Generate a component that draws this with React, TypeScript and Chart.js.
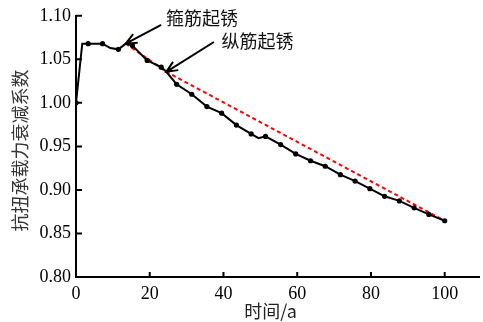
import React, { useEffect, useRef } from "react";
import { Chart, registerables } from "chart.js";

Chart.register(...registerables);

// Black series: time (years) and torsional capacity degradation coefficient
const timeYears = [0, 1.7, 3.3, 7.2, 9.3, 11.5, 13.5, 15.3, 19.3, 23.1, 24.5, 27.3, 31.4, 35.5, 39.5, 43.5, 47.5, 49.5, 51.4, 55.5, 59.6, 63.6, 67.6, 71.7, 75.7, 79.7, 83.7, 87.7, 91.7, 95.7, 100];
const coefValues = [1.0, 1.068, 1.068, 1.068, 1.063, 1.0615, 1.068, 1.0658, 1.0487, 1.041, 1.0357, 1.0213, 1.0099, 0.9957, 0.9882, 0.9745, 0.9643, 0.9595, 0.9615, 0.9521, 0.9414, 0.9335, 0.9272, 0.9175, 0.9102, 0.9015, 0.8927, 0.8874, 0.8794, 0.8719, 0.8646];
const markerShown = [1, 0, 1, 1, 0, 1, 0, 1, 1, 1, 0, 1, 1, 1, 1, 1, 1, 0, 1, 1, 1, 1, 1, 1, 1, 1, 1, 1, 1, 1, 1];

// Red dashed fit line
const fitYears = [13.5, 24.5, 100];
const fitValues = [1.068, 1.0357, 0.8646];

// Axis ticks
const xTickValues = [0, 20, 40, 60, 80, 100];
const yTickValues = [0.8, 0.85, 0.9, 0.95, 1.0, 1.05, 1.1];

// Annotations: label, text position, arrow tail, arrow tip (data coords)
const annLabels = ["箍筋起锈", "纵筋起锈"];
const annTextX = [34.2, 49.2];
const annTextY = [1.0975, 1.0707];
const annTailX = [23.1, 37.4];
const annTailY = [1.0897, 1.0699];
const annTipX = [13.5, 24.5];
const annTipY = [1.068, 1.0357];

const xTitle = "时间/a";
const yTitle = "抗扭承载力衰减系数";

const CJK = "'Noto Sans CJK SC', sans-serif";
const SERIF = "'Liberation Serif', 'Times New Roman', serif";

Chart.defaults.font.family = SERIF;

const decoPlugin = {
  id: "deco",
  afterDraw(chart: any) {
    const ctx = chart.ctx;
    const xs = chart.scales.x;
    const ys = chart.scales.y;
    const ca = chart.chartArea;
    ctx.save();
    // inward tick marks
    ctx.strokeStyle = "#000";
    ctx.lineWidth = 2;
    ctx.beginPath();
    xTickValues.forEach((v) => {
      const px = xs.getPixelForValue(v);
      ctx.moveTo(px, ca.bottom);
      ctx.lineTo(px, ca.bottom - 5);
    });
    yTickValues.forEach((v) => {
      const py = ys.getPixelForValue(v);
      ctx.moveTo(ca.left, py);
      ctx.lineTo(ca.left + 6, py);
    });
    ctx.stroke();

    // arrows + labels
    ctx.lineWidth = 2;
    ctx.strokeStyle = "#000";
    for (let i = 0; i < annLabels.length; i++) {
      const tx = xs.getPixelForValue(annTailX[i]);
      const ty = ys.getPixelForValue(annTailY[i]);
      const hx = xs.getPixelForValue(annTipX[i]);
      const hy = ys.getPixelForValue(annTipY[i]);
      const ang = Math.atan2(hy - ty, hx - tx);
      const L = 12;
      const a = 0.42;
      ctx.beginPath();
      ctx.moveTo(tx, ty);
      ctx.lineTo(hx, hy);
      ctx.moveTo(hx - L * Math.cos(ang - a), hy - L * Math.sin(ang - a));
      ctx.lineTo(hx, hy);
      ctx.lineTo(hx - L * Math.cos(ang + a), hy - L * Math.sin(ang + a));
      ctx.stroke();
      ctx.fillStyle = "#111";
      ctx.font = "18px " + CJK;
      ctx.textAlign = "center";
      ctx.textBaseline = "middle";
      ctx.fillText(annLabels[i], xs.getPixelForValue(annTextX[i]), ys.getPixelForValue(annTextY[i]));
    }

    // axis titles
    ctx.fillStyle = "#222";
    ctx.font = "18px " + CJK;
    ctx.textAlign = "center";
    ctx.textBaseline = "middle";
    ctx.fillText(xTitle, (ca.left + ca.right) / 2 - 7, 311);
    ctx.save();
    ctx.translate(20, (ca.top + ca.bottom) / 2 + 4);
    ctx.rotate(-Math.PI / 2);
    ctx.fillStyle = "#333";
    ctx.fillText(yTitle, 0, 0);
    ctx.restore();
    ctx.restore();
  },
};

export default function App() {
  const ref = useRef<HTMLCanvasElement>(null);
  useEffect(() => {
    if (!ref.current) return;
    const chart = new Chart(ref.current, {
      type: "line",
      data: {
        datasets: [
          {
            data: timeYears.map((x, i) => ({ x, y: coefValues[i] })),
            borderColor: "#000",
            backgroundColor: "#000",
            borderWidth: 2,
            pointRadius: markerShown.map((m) => (m ? 2.6 : 0)),
            pointBorderWidth: 0,
            pointStyle: "circle",
            tension: 0,
          },
          {
            data: fitYears.map((x, i) => ({ x, y: fitValues[i] })),
            borderColor: "#ff0000",
            backgroundColor: "#ff0000",
            borderWidth: 2,
            borderDash: [4, 3],
            pointRadius: 0,
            tension: 0,
          },
        ],
      },
      options: {
        animation: false,
        responsive: false,
        layout: { padding: { top: 14, right: 0, left: 0, bottom: 0 } },
        plugins: { legend: { display: false }, tooltip: { enabled: false } },
        scales: {
          x: {
            type: "linear",
            min: 0,
            max: 109.3,
            afterBuildTicks: (s: any) => {
              s.ticks = xTickValues.map((v) => ({ value: v }));
            },
            afterFit: (s: any) => {
              s.height = 45;
            },
            grid: { drawOnChartArea: false, drawTicks: false },
            border: { color: "#000", width: 2 },
            ticks: {
              color: "#000",
              font: { family: SERIF, size: 18 },
              padding: 6,
              maxRotation: 0,
            },
          },
          y: {
            type: "linear",
            min: 0.8,
            max: 1.1,
            afterBuildTicks: (s: any) => {
              s.ticks = yTickValues.map((v) => ({ value: v }));
            },
            afterFit: (s: any) => {
              s.width = 76;
            },
            grid: { drawOnChartArea: false, drawTicks: false },
            border: { color: "#000", width: 2 },
            ticks: {
              color: "#000",
              font: { family: SERIF, size: 18 },
              padding: 5,
              callback: (v: any) => Number(v).toFixed(2),
            },
          },
        },
      } as any,
      plugins: [decoPlugin],
    });
    return () => chart.destroy();
  }, []);
  return (
    <div style={{ position: "absolute", left: 0, top: 0, width: 483, height: 322, background: "#fff" }}>
      <canvas ref={ref} width={483} height={322} />
    </div>
  );
}
